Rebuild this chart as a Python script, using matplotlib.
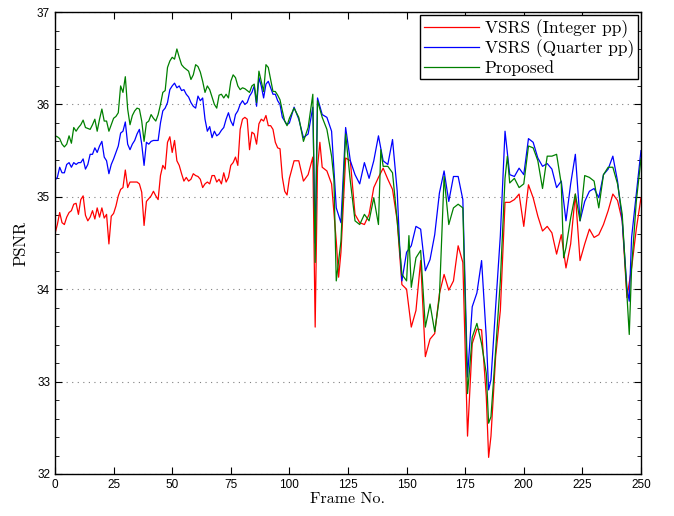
import matplotlib
matplotlib.use('Agg')
import matplotlib.pyplot as plt
from matplotlib.ticker import MultipleLocator

# PSNR per frame
# frames 0..100 one by one, then every other frame with the spikes added
red_frames = list(range(0, 101)) + [
    102, 104, 106, 108, 110, 111, 112, 113, 114, 116, 118, 120, 121, 122, 124, 126, 128, 130, 132, 134,
    136, 138, 140, 142, 144, 146, 148, 150, 152, 154, 156, 158, 160, 162, 164, 166, 168, 170, 172, 174,
    176, 178, 180, 182, 184, 185, 186, 188, 190, 192, 194, 196, 198, 200, 202, 204, 206, 208, 210, 212,
    214, 216, 218, 220, 222, 224, 226, 228, 230, 232, 234, 236, 238, 240, 242, 244, 246, 248, 250]
red_psnr = [
    34.60, 34.70, 34.83, 34.72, 34.70, 34.78, 34.83, 34.85, 34.92, 34.93,
    34.81, 34.97, 35.01, 34.80, 34.74, 34.78, 34.85, 34.76, 34.88, 34.78,
    34.88, 34.77, 34.81, 34.49, 34.79, 34.82, 34.90, 35.01, 35.08, 35.10,
    35.29, 35.10, 35.16, 35.16, 35.16, 35.16, 35.14, 35.05, 34.69, 34.95,
    34.98, 35.01, 35.06, 35.01, 34.97, 35.23, 35.34, 35.30, 35.59, 35.65,
    35.48, 35.61, 35.39, 35.34, 35.25, 35.17, 35.21, 35.17, 35.19, 35.25,
    35.23, 35.22, 35.19, 35.10, 35.14, 35.16, 35.14, 35.23, 35.23, 35.16,
    35.19, 35.14, 35.26, 35.16, 35.21, 35.34, 35.37, 35.43, 35.34, 35.73,
    35.84, 35.86, 35.84, 35.51, 35.70, 35.68, 35.57, 35.79, 35.84, 35.82,
    35.88, 35.77, 35.77, 35.73, 35.59, 35.53, 35.52, 35.21, 35.06, 35.02,
    35.20,
    35.39, 35.39, 35.17, 35.24, 35.43, 33.59, 35.32, 35.59, 35.32, 35.28, 35.14, 34.52, 34.13, 34.40, 35.42, 35.39, 34.81, 34.72, 34.70, 34.81,
    35.10, 35.21, 35.31, 35.19, 35.08, 34.74, 34.05, 34.00, 33.59, 33.77, 34.31, 33.27, 33.46, 33.52, 33.95, 34.16, 33.99, 34.09, 34.47, 34.29,
    32.41, 33.41, 33.57, 33.56, 32.84, 32.18, 32.41, 33.27, 33.77, 34.94, 34.94, 34.97, 35.03, 34.68, 35.13, 34.99, 34.79, 34.63, 34.68, 34.61,
    34.38, 34.59, 34.23, 34.49, 35.03, 34.31, 34.49, 34.65, 34.56, 34.59, 34.70, 34.85, 35.03, 34.96, 34.74, 33.91, 34.23, 34.65, 34.99]

blue_frames = list(range(0, 101)) + [
    102, 104, 106, 108, 110, 111, 112, 114, 116, 118, 120, 122, 124, 126, 128, 130, 132, 134, 136, 138,
    140, 142, 144, 146, 147, 148, 150, 152, 154, 156, 158, 160, 162, 164, 166, 168, 170, 172, 174, 176,
    178, 180, 182, 184, 185, 186, 188, 190, 192, 194, 196, 198, 200, 202, 204, 206, 208, 210, 212, 214,
    216, 218, 220, 222, 224, 226, 228, 230, 232, 234, 236, 238, 240, 242, 244, 245, 246, 248, 250]
blue_psnr = [
    35.18, 35.21, 35.32, 35.26, 35.26, 35.35, 35.37, 35.32, 35.37, 35.35,
    35.37, 35.37, 35.41, 35.30, 35.35, 35.46, 35.46, 35.53, 35.48, 35.55,
    35.60, 35.43, 35.39, 35.25, 35.35, 35.41, 35.48, 35.55, 35.69, 35.71,
    35.81, 35.57, 35.51, 35.57, 35.61, 35.68, 35.73, 35.57, 35.34, 35.59,
    35.57, 35.60, 35.61, 35.61, 35.61, 35.80, 35.93, 35.96, 36.02, 36.16,
    36.20, 36.23, 36.18, 36.20, 36.15, 36.16, 36.11, 36.08, 36.02, 35.98,
    35.96, 36.09, 36.04, 36.07, 35.84, 35.71, 35.76, 35.64, 35.71, 35.66,
    35.68, 35.72, 35.75, 35.84, 35.91, 35.82, 35.77, 35.89, 35.93, 36.00,
    36.04, 36.00, 36.02, 36.09, 36.13, 36.20, 35.98, 36.29, 36.20, 36.07,
    36.22, 36.25, 36.18, 36.11, 36.11, 36.04, 36.00, 35.86, 35.82, 35.78,
    35.80,
    35.97, 35.84, 35.64, 35.68, 35.97, 34.50, 36.07, 35.89, 35.86, 35.71, 34.88, 34.72, 35.75, 35.39, 35.24, 35.14, 35.37, 35.20, 35.39, 35.66,
    35.39, 35.35, 35.62, 35.06, 34.49, 34.09, 34.40, 34.47, 34.68, 34.65, 34.20, 34.32, 34.59, 35.04, 35.28, 34.95, 35.22, 35.22, 34.97, 33.05,
    33.81, 33.96, 34.31, 33.48, 32.91, 33.02, 33.81, 34.58, 35.71, 35.24, 35.22, 35.31, 35.24, 35.63, 35.59, 35.42, 35.33, 35.36, 35.30, 35.10,
    35.17, 34.74, 35.14, 35.46, 34.74, 34.95, 35.06, 35.09, 34.99, 35.24, 35.30, 35.44, 35.17, 34.74, 34.02, 33.87, 34.56, 35.03, 35.50]

green_frames = list(range(0, 101)) + [
    102, 104, 106, 108, 110, 111, 112, 114, 116, 118, 119, 120, 122, 124, 126, 128, 130, 132, 134, 136,
    138, 139, 140, 142, 144, 146, 148, 150, 151, 152, 154, 156, 158, 160, 162, 164, 166, 168, 170, 172,
    174, 176, 178, 180, 182, 184, 185, 186, 188, 190, 192, 193, 194, 196, 198, 200, 202, 204, 206, 208,
    210, 212, 214, 216, 217, 218, 220, 222, 224, 226, 228, 230, 232, 234, 236, 238, 240, 242, 244, 245,
    246, 248, 250]
green_psnr = [
    35.66, 35.65, 35.63, 35.57, 35.54, 35.57, 35.66, 35.58, 35.75, 35.71,
    35.75, 35.78, 35.83, 35.75, 35.74, 35.73, 35.78, 35.84, 35.71, 35.84,
    35.95, 35.82, 35.82, 35.71, 35.78, 35.85, 35.87, 35.91, 36.20, 36.13,
    36.30, 35.95, 35.78, 35.88, 35.93, 35.96, 35.95, 35.82, 35.60, 35.80,
    35.82, 35.89, 35.85, 35.82, 35.89, 36.00, 36.13, 36.15, 36.40, 36.47,
    36.51, 36.49, 36.60, 36.51, 36.43, 36.40, 36.38, 36.36, 36.27, 36.32,
    36.43, 36.41, 36.35, 36.25, 36.13, 36.20, 36.16, 36.08, 36.00, 35.96,
    36.10, 36.11, 36.07, 36.11, 36.07, 36.25, 36.32, 36.29, 36.20, 36.16,
    36.18, 36.17, 36.15, 36.13, 36.20, 36.22, 36.02, 36.36, 36.25, 36.14,
    36.43, 36.40, 36.27, 36.14, 36.14, 36.10, 36.05, 35.93, 35.82, 35.77,
    35.85,
    35.96, 35.86, 35.60, 35.75, 36.11, 34.29, 36.04, 35.86, 35.73, 35.44, 35.19, 34.09, 34.52, 35.68, 35.17, 34.74, 34.70, 34.81, 34.74, 34.99,
    34.70, 35.51, 35.33, 35.33, 35.26, 34.74, 34.16, 34.09, 34.58, 34.02, 34.34, 34.42, 33.59, 33.84, 33.54, 33.91, 35.22, 34.70, 34.88, 34.92,
    34.88, 32.87, 33.48, 33.63, 33.41, 33.09, 32.55, 32.62, 33.34, 34.09, 35.20, 35.44, 35.15, 35.20, 35.10, 35.14, 35.55, 35.53, 35.39, 35.09,
    35.44, 35.44, 35.46, 35.14, 34.34, 34.45, 34.77, 35.03, 34.74, 35.23, 35.21, 35.17, 34.88, 35.24, 35.32, 35.32, 35.14, 34.81, 33.95, 33.51,
    34.23, 34.95, 35.41]

labels = ['VSRS (Integer pp)', 'VSRS (Quarter pp)', 'Proposed']
serif = 'cmr10'

fig = plt.figure(figsize=(6.74, 5.16), dpi=100)
ax = fig.add_axes([0.0816, 0.0814, 0.8694, 0.8953])

ax.plot(red_frames, red_psnr, color='red', lw=0.9, label=labels[0])
ax.plot(blue_frames, blue_psnr, color='blue', lw=0.9, label=labels[1])
ax.plot(green_frames, green_psnr, color=(0, 0.5, 0), lw=0.9, label=labels[2])

ax.set_xlim(0, 250)
ax.set_ylim(32, 37)
ax.xaxis.set_major_locator(MultipleLocator(25))
ax.yaxis.set_major_locator(MultipleLocator(1))
ax.yaxis.set_minor_locator(MultipleLocator(0.2))
ax.tick_params(which='both', direction='in', top=True, right=True)
ax.tick_params(which='major', length=5, labelsize=8.5)
ax.tick_params(which='minor', length=3)
for t in ax.get_xticklabels() + ax.get_yticklabels():
    t.set_fontfamily('Liberation Sans')
ax.yaxis.grid(True, which='major', linestyle=(0, (1, 4)), color='gray', lw=0.8)
for s in ax.spines.values():
    s.set_linewidth(1.0)

ax.set_xlabel('Frame No.', fontfamily=serif, fontsize=11.5, labelpad=1)
ax.set_ylabel('PSNR', fontfamily=serif, fontsize=12, labelpad=6)

leg = ax.legend(loc='upper right', prop={'family': serif, 'size': 12.5},
                fancybox=False, edgecolor='black', framealpha=1,
                borderpad=0.2, labelspacing=0.1, handlelength=3.2,
                handletextpad=0.3, borderaxespad=0.2)
leg.get_frame().set_linewidth(1.0)

fig.savefig('out.png', dpi=100)
